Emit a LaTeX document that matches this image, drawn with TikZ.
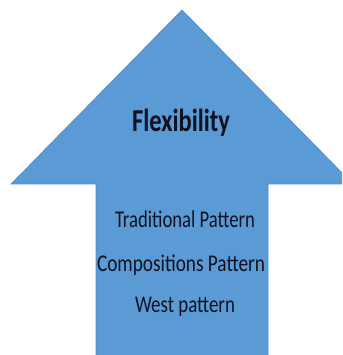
\documentclass[tikz,border=0pt]{standalone}
\usepackage{fontspec}
\setmainfont{Carlito}
\usepackage{graphicx}
\definecolor{arrowblue}{HTML}{5B9BD5}
\definecolor{arrowedge}{HTML}{4F8CC6}
\definecolor{txt}{HTML}{111122}
\begin{document}
\begin{tikzpicture}[x=1pt,y=1pt,
  lbl/.style={anchor=base,inner sep=0pt,text=txt,font=\fontsize{24}{28}\selectfont},
  head/.style={anchor=base,inner sep=0pt,text=txt,font=\fontsize{32}{36}\selectfont\bfseries}]
\useasboundingbox (0,0) rectangle (342,355);
\clip (0,0) rectangle (342,355);
\draw[fill=arrowblue,draw=arrowedge,line width=0.6pt]
  (182,345) -- (353,171) -- (268,171) -- (268,-5) -- (96,-5) -- (96,171) -- (11,171) -- cycle;
\node[head] (flex) at (181,223) {\resizebox{98pt}{\height}{Flexibility}};
\node[lbl] (trad) at (185,127) {\resizebox{140pt}{\height}{Traditional Pattern}};
\node[lbl] (comp) at (181,83) {\resizebox{168pt}{\height}{Compositions Pattern}};
\node[lbl] (west) at (185,42) {\resizebox{100pt}{\height}{West pattern}};
\end{tikzpicture}
\end{document}
